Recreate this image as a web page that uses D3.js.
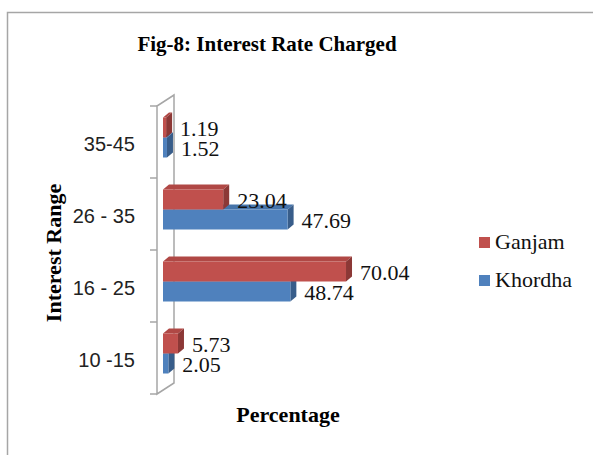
<!DOCTYPE html>
<html>
<head>
<meta charset="utf-8">
<script src="https://cdn.jsdelivr.net/npm/d3@7"></script>
<style>
  body { margin: 0; background: #fff; }
  svg { display: block; }
</style>
</head>
<body>
<svg width="593" height="455"></svg>
<script>
var svg = d3.select('svg');

var categories = ["35-45", "26 - 35", "16 - 25", "10 -15"];
var series = ["Ganjam", "Khordha"];
var ganjam = [1.19, 23.04, 70.04, 5.73];
var khordha = [1.52, 47.69, 48.74, 2.05];
var colors = {"Ganjam": ["#C0504D", "#B04845", "#8C3836"], "Khordha": ["#4F81BD", "#4674AA", "#385D8A"]};

// depth of the 3d bars
var dx = 6, dy = -5;

var x = d3.scaleLinear().domain([0, 80]).range([163, 163 + 80 * 2.613]);
var y = d3.scaleBand().domain(categories).range([106, 394]);
var ySub = d3.scaleBand().domain(series).range([11.5, 51.5]);

// rows: one per bar, blue before red so red covers its top
var rows = [];
for (var i = 0; i < categories.length; i++) {
    rows.push({cat: categories[i], s: "Khordha", v: khordha[i]});
    rows.push({cat: categories[i], s: "Ganjam", v: ganjam[i]});
}

// outer frame
svg.append('rect')
    .attr('x', 7.5).attr('y', 12.5)
    .attr('width', 620).attr('height', 470)
    .attr('fill', 'none')
    .attr('stroke', '#A6A6A6')
    .attr('stroke-width', 1.5);

svg.append('text')
    .attr('x', 267).attr('y', 51)
    .attr('text-anchor', 'middle')
    .attr('font-family', 'Liberation Serif')
    .attr('font-weight', 'bold')
    .attr('font-size', 21)
    .text('Fig-8: Interest Rate Charged');

// the wall
var wx = 157, wdx = 17, wdy = -11;
var top0 = y.range()[0], bot0 = y.range()[1];
svg.append('path')
    .attr('d', 'M' + wx + ',' + bot0 + 'V' + top0 + 'L' + (wx + wdx) + ',' + (top0 + wdy) +
        'V' + (bot0 + wdy) + 'Z')
    .attr('fill', 'none')
    .attr('stroke', '#A6A6A6')
    .attr('stroke-width', 1.5);

// ticks at band edges
var edges = categories.map(function(c) { return y(c); });
edges.push(bot0);
svg.selectAll('.tick')
    .data(edges)
    .enter()
    .append('line')
    .attr('x1', 150).attr('x2', wx)
    .attr('y1', function(d) { return d; })
    .attr('y2', function(d) { return d; })
    .attr('stroke', '#A6A6A6')
    .attr('stroke-width', 1.5);

// category labels
svg.selectAll('.cat')
    .data(categories)
    .enter()
    .append('text')
    .attr('x', 135)
    .attr('y', function(d) { return y(d) + y.bandwidth() / 2 + 8.5; })
    .attr('text-anchor', 'end')
    .attr('font-family', 'Liberation Sans')
    .attr('font-size', 20)
    .attr('fill', '#222')
    .text(function(d) { return d; });

// bars
var bars = svg.selectAll('.bar')
    .data(rows)
    .enter()
    .append('g');

bars.append('path')
    .attr('d', function(d) {
        var x0 = x(0), x1 = x(d.v), t = y(d.cat) + ySub(d.s);
        return 'M' + x0 + ',' + t + 'L' + (x0 + dx) + ',' + (t + dy) + 'L' + (x1 + dx) + ',' + (t + dy) + 'L' + x1 + ',' + t + 'Z';
    })
    .attr('fill', function(d) { return colors[d.s][1]; });

bars.append('path')
    .attr('d', function(d) {
        var x1 = x(d.v), t = y(d.cat) + ySub(d.s), h = ySub.bandwidth();
        return 'M' + x1 + ',' + t + 'L' + (x1 + dx) + ',' + (t + dy) + 'L' + (x1 + dx) + ',' + (t + h + dy) + 'L' + x1 + ',' + (t + h) + 'Z';
    })
    .attr('fill', function(d) { return colors[d.s][2]; });

bars.append('rect')
    .attr('x', x(0))
    .attr('y', function(d) { return y(d.cat) + ySub(d.s); })
    .attr('width', function(d) { return x(d.v) - x(0); })
    .attr('height', ySub.bandwidth())
    .attr('fill', function(d) { return colors[d.s][0]; });

// value labels
svg.selectAll('.val')
    .data(rows)
    .enter()
    .append('text')
    .attr('x', function(d) { return x(d.v) + 14; })
    .attr('y', function(d) { return y(d.cat) + ySub(d.s) + ySub.bandwidth() / 2 + 8; })
    .attr('font-family', 'Liberation Serif')
    .attr('font-size', 22)
    .attr('fill', '#111')
    .text(function(d) { return d.v.toFixed(2); });

// axis titles
svg.append('text')
    .attr('transform', 'translate(61,253) rotate(-90)')
    .attr('text-anchor', 'middle')
    .attr('font-family', 'Liberation Serif')
    .attr('font-weight', 'bold')
    .attr('font-size', 22)
    .text('Interest Range');

svg.append('text')
    .attr('x', 288).attr('y', 422)
    .attr('text-anchor', 'middle')
    .attr('font-family', 'Liberation Serif')
    .attr('font-weight', 'bold')
    .attr('font-size', 22)
    .text('Percentage');

// legend
var legend = svg.selectAll('.legend')
    .data(series)
    .enter()
    .append('g')
    .attr('transform', function(d, i) { return 'translate(479,' + (237 + i * 38) + ')'; });

legend.append('rect')
    .attr('width', 11).attr('height', 11)
    .attr('fill', function(d) { return colors[d][0]; });

legend.append('text')
    .attr('x', 16).attr('y', 12)
    .attr('font-family', 'Liberation Serif')
    .attr('font-size', 22)
    .attr('fill', '#111')
    .text(function(d) { return d; });
</script>
</body>
</html>
